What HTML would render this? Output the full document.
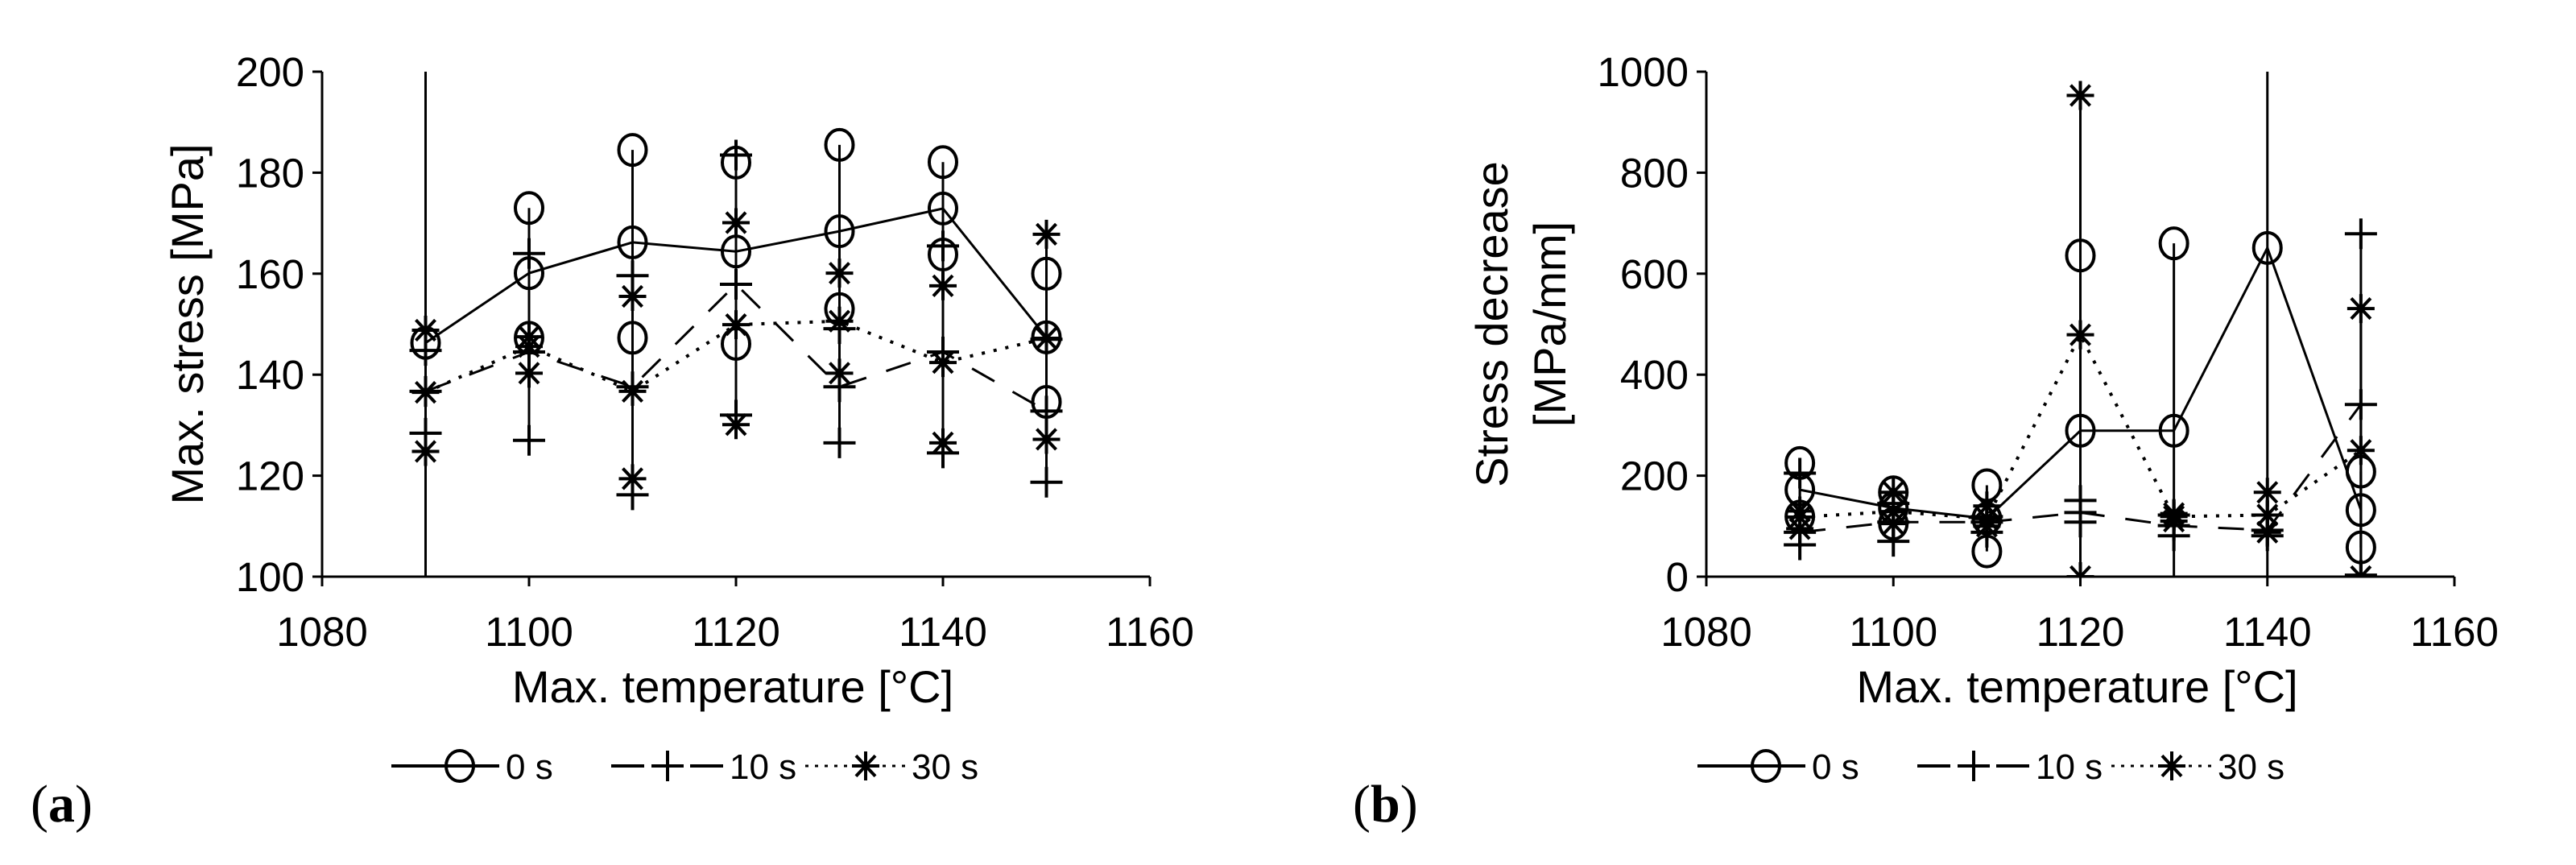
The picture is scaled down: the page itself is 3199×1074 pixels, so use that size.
<!DOCTYPE html>
<html><head><meta charset="utf-8"><style>
html,body{margin:0;padding:0;background:#fff;}
svg{display:block;font-family:"Liberation Sans",Arial,sans-serif;}
</style></head><body>
<svg id="fig" width="3199" height="1074" viewBox="0 0 3199 1074" xmlns="http://www.w3.org/2000/svg">
<defs>
<clipPath id="clipA"><rect x="400" y="89" width="1030" height="627"/></clipPath>
<clipPath id="clipB"><rect x="2119" y="89" width="932" height="627"/></clipPath>
</defs>
</svg>
<script>
// ---------- data ----------
const temps = [1090,1100,1110,1120,1130,1140,1150];
const seriesNames = ['0 s','10 s','30 s'];
// Chart (a): max stress [MPa]
const aMean0  = [146.3,160.1,166.2,164.4,168.4,172.9,147.4];
const aUp0    = [206,173.0,184.5,182.0,185.5,182.1,160.0];
const aLo0    = [86,147.3,147.3,146.1,153.0,163.8,134.6];
const aMean10 = [136.7,144.5,137.6,157.9,137.6,144.5,132.8];
const aUp10   = [144.8,164.0,159.6,183.5,149.1,165.5,147.0];
const aLo10   = [128.4,127.0,116.2,132.0,126.5,124.5,118.7];
const aMean30 = [136.5,145.6,136.7,149.9,150.6,142.4,147.2];
const aUp30   = [148.8,147.5,155.5,170.1,160.1,157.6,167.8];
const aLo30   = [124.8,140.3,119.4,130.1,140.3,126.5,127.2];
const aYTicks = [100,120,140,160,180,200];
// Chart (b): stress decrease [MPa/mm]
const bMean0  = [172,136,115,289,289,651,132];
const bUp0    = [225,167,181,636,660,1100,208];
const bLo0    = [119,105,50,-60,-80,-100,58];
const bMean10 = [88,108,108,127,101,92,341];
const bUp10   = [205,145,119,151,122,122,679];
const bLo10   = [63,70,88,108,81,81,3];
const bMean30 = [118,129,115,479,119,122,250];
const bUp30   = [130,167,140,953,125,167,531];
const bLo30   = [95,105,100,0,110,88,0];
const bYTicks = [0,200,400,600,800,1000];
const xTicks = [1080,1100,1120,1140,1160];

const NS='http://www.w3.org/2000/svg';
const svg=document.getElementById('fig');
function mk(tag,attrs,parent){const e=document.createElementNS(NS,tag);for(const k in attrs)e.setAttribute(k,attrs[k]);(parent||svg).appendChild(e);return e;}

function marker(g,type,x,y){
  const st={stroke:'#000','stroke-width':4,fill:'none'};
  let m;
  if(type===0){m=mk('ellipse',Object.assign({cx:x,cy:y,rx:17,ry:19},st),g);}
  else if(type===1){m=mk('path',Object.assign({d:`M${x-20},${y}H${x+20}M${x},${y-19}V${y+19}`},st),g);}
  else{let d='';for(let i=0;i<4;i++){const a=Math.PI/4*i;const dx=17*Math.sin(a),dy=18*Math.cos(a);d+=`M${x-dx},${y-dy}L${x+dx},${y+dy}`;}
    m=mk('path',Object.assign({d:d},st),g);}
  return m;
}
const dashes=['none','32 26','4 11'];

function chart(id,x0,x1,y0,y1,ymin,ymax,yTicks,means,ups,los,clip,ytitleLines,ytx){
  const X=v=>x0+(v-1080)/80*(x1-x0);
  const Y=v=>y0-(v-ymin)/(ymax-ymin)*(y0-y1);
  const g=mk('g',{});
  
  
  const ax=mk('path',{d:`M${x0},${y1}V${y0}H${x1}`,stroke:'#000','stroke-width':3,fill:'none'},g);
  
  
  yTicks.forEach(t=>{
    mk('line',{x1:x0-12,x2:x0,y1:Y(t),y2:Y(t),stroke:'#000','stroke-width':3},g);
    const tx=mk('text',{x:x0-22,y:Y(t)+18,'text-anchor':'end','font-size':51},g);tx.textContent=t;
    
    
  });
  xTicks.forEach(t=>{
    mk('line',{x1:X(t),x2:X(t),y1:y0,y2:y0+12,stroke:'#000','stroke-width':3},g);
    const tx=mk('text',{x:X(t),y:y0+86,'text-anchor':'middle','font-size':51},g);tx.textContent=t;
    
    
  });
  const xt=mk('text',{x:(x0+x1)/2-4,y:y0+156,'text-anchor':'middle','font-size':56},g);
  xt.textContent='Max. temperature [°C]';
  
  
  const cy=(y0+y1)/2;
  ytitleLines.forEach((l,i)=>{
    const t=mk('text',{x:ytx[i],y:cy,'text-anchor':'middle','font-size':56,transform:`rotate(-90 ${ytx[i]} ${cy})`},g);
    t.textContent=l;
    
    
  });
  const pg=mk('g',{'clip-path':`url(#${clip})`},g);
  for(let s=0;s<3;s++){
    const sg=mk('g',{},pg);
    
    
    temps.forEach((t,i)=>{
      const eb=mk('line',{x1:X(t),x2:X(t),y1:Y(ups[s][i]),y2:Y(los[s][i]),stroke:'#000','stroke-width':3},sg);
      
      
    });
    const pts=temps.map((t,i)=>X(t)+','+Y(means[s][i])).join(' ');
    const ln=mk('polyline',{points:pts,fill:'none',stroke:'#000','stroke-width':s===2?4:3,'stroke-dasharray':dashes[s]},sg);
    
    
    temps.forEach((t,i)=>{
      [means[s][i],ups[s][i],los[s][i]].forEach(v=>{
        const m=marker(sg,s,X(t),Y(v));
        
        
      });
    });
  }
  return g;
}
chart('chart-a',400,1428,716,89,100,200,aYTicks,[aMean0,aMean10,aMean30],[aUp0,aUp10,aUp30],[aLo0,aLo10,aLo30],'clipA',['Max. stress [MPa]'],[252]);
chart('chart-b',2119,3048,716,89,0,1000,bYTicks,[bMean0,bMean10,bMean30],[bUp0,bUp10,bUp30],[bLo0,bLo10,bLo30],'clipB',['Stress decrease','[MPa/mm]'],[1872,1944]);

function legend(ox,name){
  const g=mk('g',{});
  
  
  const y=951;
  let e=mk('g',{},g);
  
  
  mk('line',{x1:ox+486,x2:ox+620,y1:y,y2:y,stroke:'#000','stroke-width':4},e);
  marker(e,0,ox+571,y);
  let t=mk('text',{x:ox+628,y:y+16,'font-size':44},e);t.textContent='0 s';
  e=mk('g',{},g);
  
  
  mk('line',{x1:ox+759,x2:ox+800,y1:y,y2:y,stroke:'#000','stroke-width':4},e);
  mk('line',{x1:ox+857,x2:ox+898,y1:y,y2:y,stroke:'#000','stroke-width':4},e);
  marker(e,1,ox+829,y);
  t=mk('text',{x:ox+906,y:y+16,'font-size':44},e);t.textContent='10 s';
  e=mk('g',{},g);
  
  
  mk('line',{x1:ox+1000,x2:ox+1126,y1:y,y2:y,stroke:'#000','stroke-width':3,'stroke-dasharray':'4 8'},e);
  marker(e,2,ox+1075,y);
  t=mk('text',{x:ox+1132,y:y+16,'font-size':44},e);t.textContent='30 s';
}
legend(0,'legend-a');
legend(1622,'legend-b');
const la=mk('text',{x:38,y:1020,'font-size':66,'font-family':'Liberation Serif, serif'});
la.innerHTML='(<tspan font-weight="bold">a</tspan>)';


const lb=mk('text',{x:1680,y:1020,'font-size':66,'font-family':'Liberation Serif, serif'});
lb.innerHTML='(<tspan font-weight="bold">b</tspan>)';


</script>
</body></html>
